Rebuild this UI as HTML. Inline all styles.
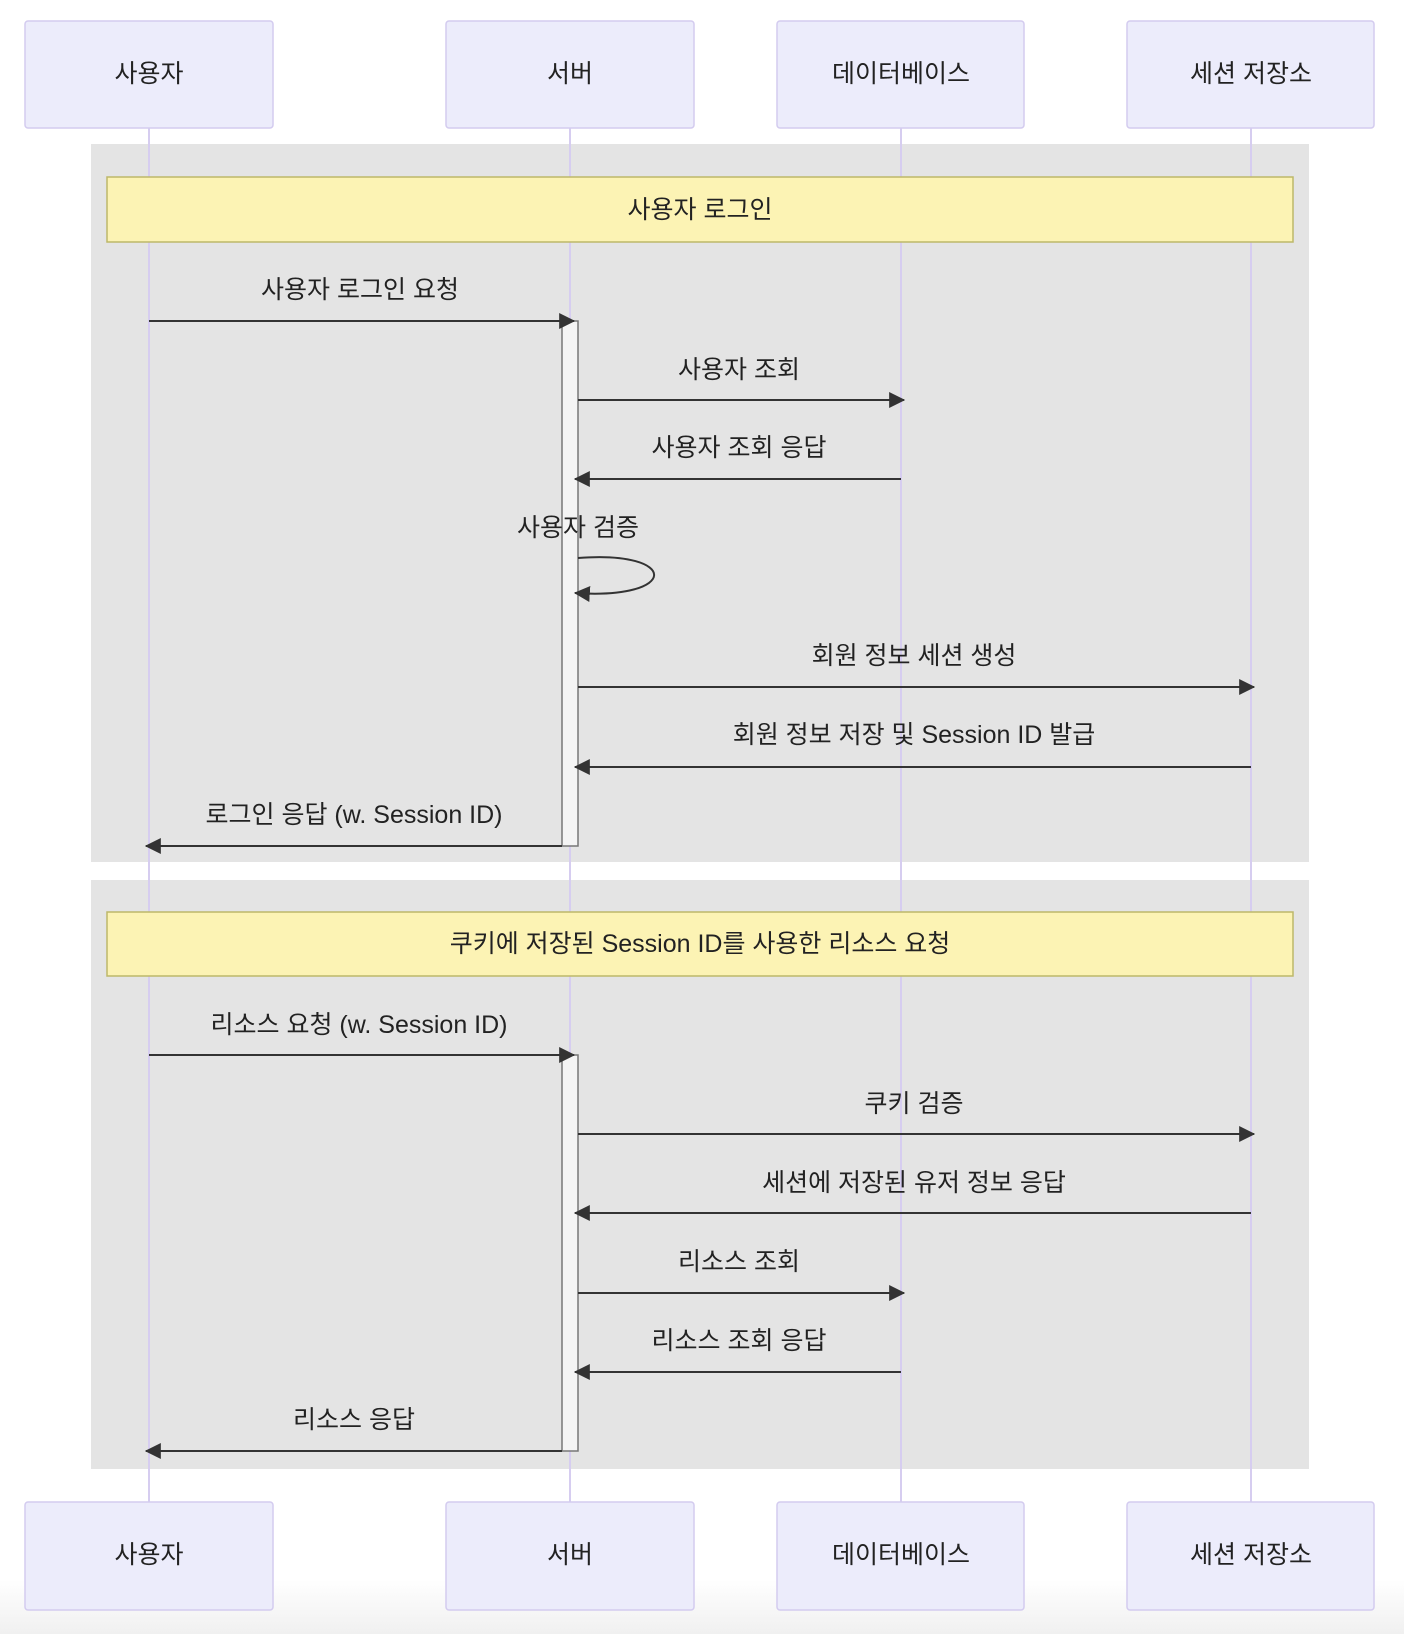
<!DOCTYPE html>
<html><head><meta charset="utf-8"><style>
html,body{margin:0;padding:0;background:#fff}
svg text{font-family:"Liberation Sans","Noto Sans CJK KR",sans-serif;font-size:25px;fill:#222;text-anchor:middle;dominant-baseline:central}
</style></head><body>
<svg width="1404" height="1634" viewBox="0 0 1404 1634" xmlns="http://www.w3.org/2000/svg">
<defs>
<linearGradient id="bg" x1="0" y1="0" x2="0" y2="1"><stop offset="0" stop-color="#fff"/><stop offset="1" stop-color="#f0f0f0"/></linearGradient>
<marker id="ah" viewBox="0 0 14 14" refX="13" refY="7" markerWidth="16" markerHeight="16" markerUnits="userSpaceOnUse" orient="auto"><path d="M0,0 L14,7 L0,14 z" fill="#333"/></marker>
</defs>
<rect x="0" y="1580" width="1404" height="54" fill="url(#bg)"/>
<rect x="91" y="144" width="1218" height="718" fill="#e4e4e4"/>
<rect x="91" y="880" width="1218" height="589" fill="#e4e4e4"/>
<g stroke="#d6cdf0" stroke-width="2">
<line x1="149" y1="128" x2="149" y2="1502"/>
<line x1="570" y1="128" x2="570" y2="1502"/>
<line x1="901" y1="128" x2="901" y2="1502"/>
<line x1="1251" y1="128" x2="1251" y2="1502"/>
</g>
<rect x="107" y="177" width="1186" height="65" fill="#fcf3b4" stroke="#bdb86a" stroke-width="1.5"/>
<text x="700" y="210">사용자 로그인</text>
<rect x="107" y="912" width="1186" height="64" fill="#fcf3b4" stroke="#bdb86a" stroke-width="1.5"/>
<text x="700" y="944">쿠키에 저장된 Session ID를 사용한 리소스 요청</text>
<g fill="#ececfb" stroke="#d3cbef" stroke-width="1.5">
<rect x="25" y="21" width="248" height="107" rx="3"/>
<rect x="446" y="21" width="248" height="107" rx="3"/>
<rect x="777" y="21" width="247" height="107" rx="3"/>
<rect x="1127" y="21" width="247" height="107" rx="3"/>
<rect x="25" y="1502" width="248" height="108" rx="3"/>
<rect x="446" y="1502" width="248" height="108" rx="3"/>
<rect x="777" y="1502" width="247" height="108" rx="3"/>
<rect x="1127" y="1502" width="247" height="108" rx="3"/>
</g>
<g>
<text x="149" y="74">사용자</text><text x="570" y="74">서버</text><text x="901" y="74">데이터베이스</text><text x="1251" y="74">세션 저장소</text>
<text x="149" y="1555">사용자</text><text x="570" y="1555">서버</text><text x="901" y="1555">데이터베이스</text><text x="1251" y="1555">세션 저장소</text>
</g>
<rect x="562" y="321" width="16" height="525" fill="#f4f4f4" stroke="#777" stroke-width="1.5"/>
<rect x="562" y="1055" width="16" height="396" fill="#f4f4f4" stroke="#777" stroke-width="1.5"/>
<g stroke="#333" stroke-width="2" fill="none" marker-end="url(#ah)">
<line x1="149" y1="321" x2="574" y2="321"/>
<line x1="578" y1="400" x2="904" y2="400"/>
<line x1="901" y1="479" x2="575" y2="479"/>
<path d="M578,558 C680,550 680,600 575,593"/>
<line x1="578" y1="687" x2="1254" y2="687"/>
<line x1="1251" y1="767" x2="575" y2="767"/>
<line x1="562" y1="846" x2="146" y2="846"/>
<line x1="149" y1="1055" x2="574" y2="1055"/>
<line x1="578" y1="1134" x2="1254" y2="1134"/>
<line x1="1251" y1="1213" x2="575" y2="1213"/>
<line x1="578" y1="1293" x2="904" y2="1293"/>
<line x1="901" y1="1372" x2="575" y2="1372"/>
<line x1="562" y1="1451" x2="146" y2="1451"/>
</g>
<g>
<text x="360" y="290">사용자 로그인 요청</text>
<text x="739" y="370">사용자 조회</text>
<text x="739" y="448">사용자 조회 응답</text>
<text x="578" y="528">사용자 검증</text>
<text x="914" y="656">회원 정보 세션 생성</text>
<text x="914" y="735">회원 정보 저장 및 Session ID 발급</text>
<text x="354" y="815">로그인 응답 (w. Session ID)</text>
<text x="359" y="1025">리소스 요청 (w. Session ID)</text>
<text x="914" y="1104">쿠키 검증</text>
<text x="914" y="1183">세션에 저장된 유저 정보 응답</text>
<text x="739" y="1262">리소스 조회</text>
<text x="739" y="1341">리소스 조회 응답</text>
<text x="354" y="1420">리소스 응답</text>
</g>
</svg>
</body></html>
